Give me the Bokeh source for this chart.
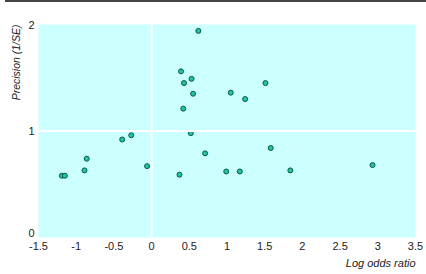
from bokeh.plotting import figure
from bokeh.models import Span, Title, FixedTicker, Range1d, Div
from bokeh.layouts import column
from bokeh.embed import file_html
from bokeh.resources import INLINE

log_or = [0.62, 0.39, 0.53, 0.43, 0.55, 0.42, 0.52, -0.27, 1.51, 1.05, 1.24,
          -0.39, -0.86, -0.89, -1.19, -1.15, -0.06, 0.37, 0.71, 0.99, 1.17,
          1.58, 1.84, 2.93]
precision = [1.94, 1.56, 1.49, 1.45, 1.35, 1.21, 0.98, 0.96, 1.45, 1.36, 1.30,
             0.92, 0.74, 0.63, 0.58, 0.58, 0.67, 0.59, 0.79, 0.62, 0.62,
             0.84, 0.63, 0.68]
x_ticks = [-1.5, -1, -0.5, 0, 0.5, 1, 1.5, 2, 2.5, 3, 3.5]
x_tick_labels = ["-1.5", "-1", "-0.5", "0", "0.5", "1", "1.5", "2", "2.5", "3", "3.5"]
y_ticks = [0, 1, 2]
y_tick_labels = ["0", "1", "2"]

# the lowest y label sits just above the corner (as in the original)
lift = 0.04
y_tick_pos = [y_ticks[0] + lift] + y_ticks[1:]

p = figure(frame_width=377, frame_height=213, output_backend="svg", toolbar_location=None,
           x_range=Range1d(-1.5, 3.5), y_range=Range1d(0, 2),
           min_border_left=38, min_border_right=11, min_border_top=22,
           min_border_bottom=37)
p.background_fill_color = "#ccffff"
p.border_fill_color = "white"
p.outline_line_color = None
p.grid.visible = False

for ax in (p.xaxis[0], p.yaxis[0]):
    ax.axis_line_color = None
    ax.major_tick_line_color = None
    ax.minor_tick_line_color = None
    ax.major_tick_out = 0
    ax.major_tick_in = 0
    ax.minor_tick_out = 0
    ax.minor_tick_in = 0
    ax.major_label_text_font = "Liberation Sans"
    ax.major_label_text_font_size = "11px"
    ax.major_label_text_color = "#222222"
p.xaxis.ticker = FixedTicker(ticks=x_ticks)
p.yaxis.ticker = FixedTicker(ticks=y_tick_pos)
p.xaxis.major_label_standoff = 4
p.yaxis.major_label_standoff = 4
p.xaxis.major_label_overrides = dict(zip(x_ticks, x_tick_labels))
p.yaxis.major_label_overrides = dict(zip(y_tick_pos, y_tick_labels))

p.add_layout(Span(location=0, dimension="height", line_color="white", line_width=2))
p.add_layout(Span(location=1, dimension="width", line_color="white", line_width=2))

p.scatter(log_or, precision, size=5, fill_color="#22c4a0", line_color="#0a5a44",
          line_width=1)

p.add_layout(Title(text="Log odds ratio", align="right", text_font="Liberation Sans",
                   text_font_style="italic", text_font_size="11px", text_color="#222222",
                   standoff=4), "below")
p.add_layout(Title(text="Precision (1/SE)", align="right", text_font="Liberation Sans",
                   text_font_style="italic", text_font_size="10.5px", text_color="#222222",
                   standoff=7), "left")

bar = Div(text="", width=421, height=2, margin=(0, 0, 0, 5),
          styles={"background-color": "#444444"})

layout = column(bar, p, spacing=0)
open("out.html", "w").write(file_html(layout, INLINE))
